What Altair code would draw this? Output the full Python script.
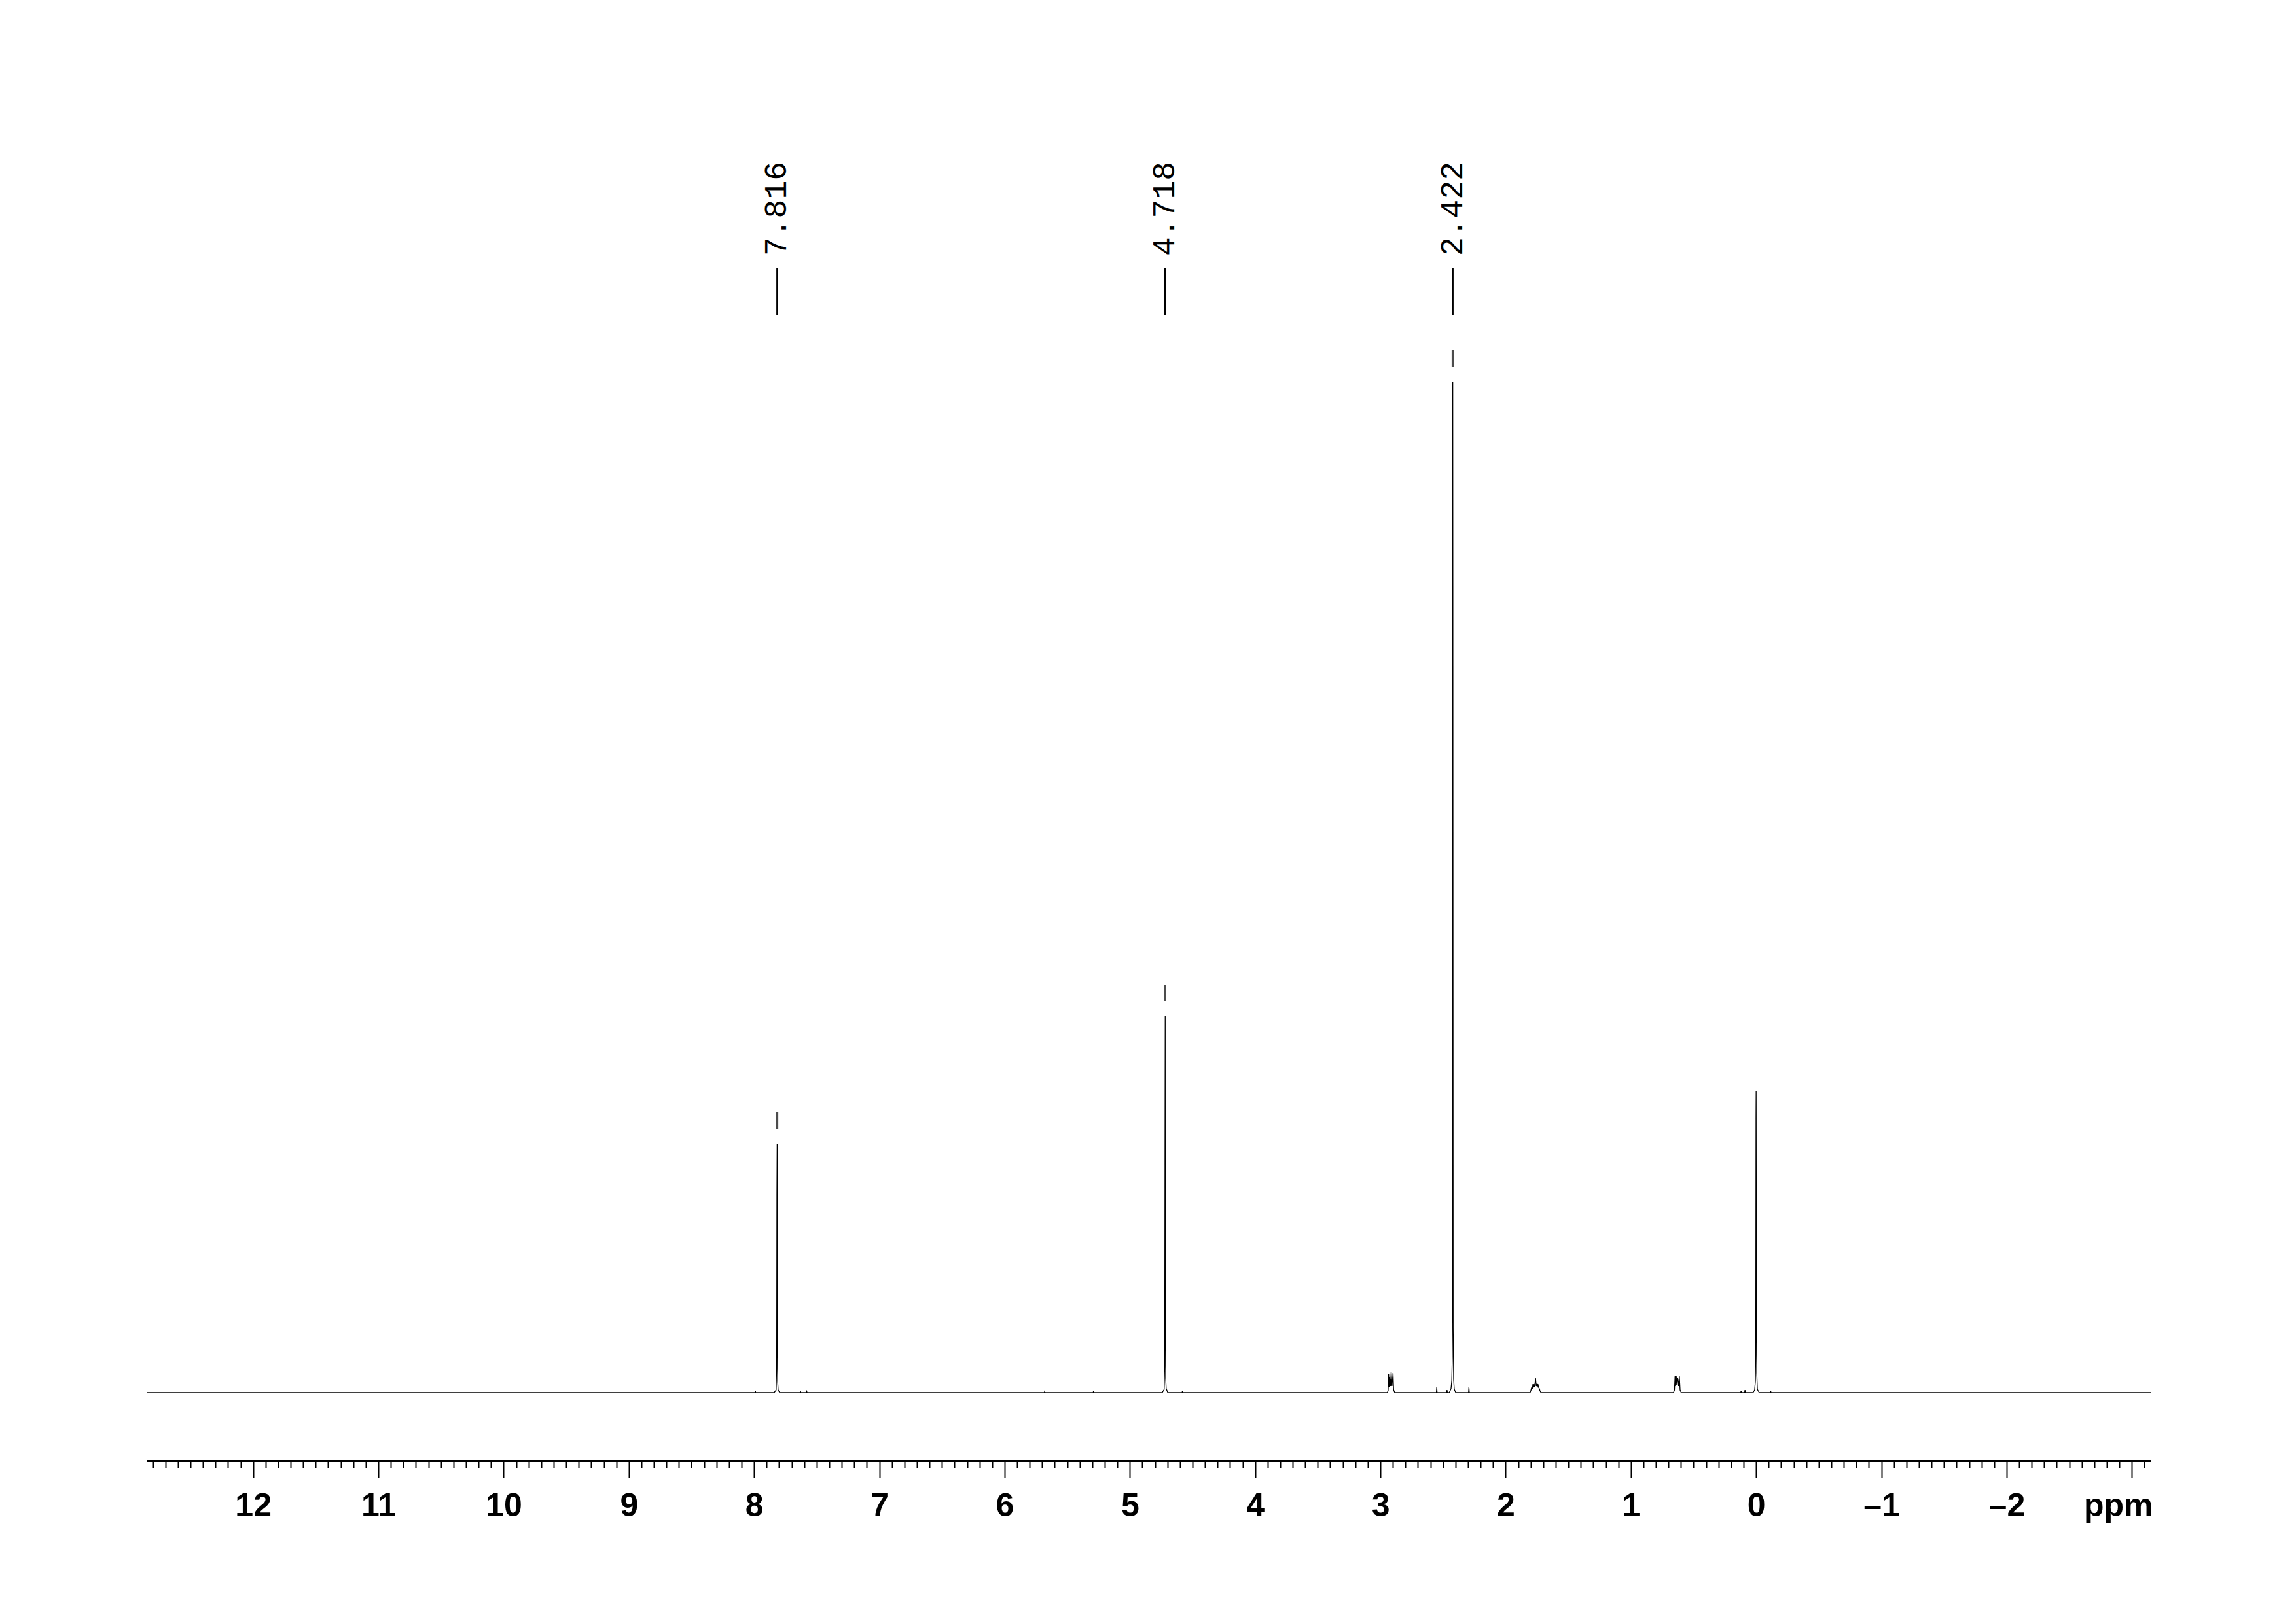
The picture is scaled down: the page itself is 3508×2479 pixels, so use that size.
import altair as alt
import pandas as pd

# ---------------- data ----------------
# spectrum polyline vertices: chemical shift (ppm) and intensity (arbitrary units)
spec_ppm = [
    12.85,
    7.993, 7.990, 7.987,
    7.840, 7.824, 7.820, 7.818, 7.816, 7.815, 7.812, 7.808, 7.795,
    7.633, 7.630, 7.627,
    7.583, 7.580, 7.577,
    5.683, 5.680, 5.677,
    5.293, 5.290, 5.287,
    4.742, 4.726, 4.722, 4.720, 4.718, 4.717, 4.714, 4.710, 4.697,
    4.583, 4.580, 4.577,
    2.945, 2.938, 2.934, 2.930, 2.926, 2.920, 2.914, 2.907, 2.899, 2.894, 2.885,
    2.553, 2.550, 2.547,
    2.471, 2.468, 2.465,
    2.450, 2.436, 2.430, 2.426, 2.424, 2.422, 2.421, 2.419, 2.415, 2.410, 2.398,
    2.296, 2.293, 2.290,
    1.805, 1.797, 1.794, 1.790, 1.786, 1.782, 1.778, 1.773, 1.768, 1.761,
    1.756, 1.752, 1.747, 1.742, 1.737, 1.731, 1.726, 1.718,
    0.660, 0.652, 0.647, 0.643, 0.638, 0.634, 0.626, 0.619, 0.613, 0.607, 0.598,
    0.123, 0.120, 0.117,
    0.092, 0.089, 0.086,
    0.025, 0.012, 0.006, 0.003, 0.001, 0.000, -0.002, -0.005, -0.010, -0.025,
    -0.113, -0.116, -0.119,
    -3.15,
]
spec_int = [
    0,
    0, 3, 0,
    0, 4, 37, 302, 380, 125, 17, 4, 0,
    0, 3, 0,
    0, 2, 0,
    0, 2, 0,
    0, 3, 0,
    0, 5, 40, 313, 575, 160, 22, 6, 0,
    0, 3, 0,
    0, 3, 28, 9, 24, 10, 31, 10, 30, 4, 0,
    0, 8, 0,
    0, 4, 0,
    0, 6, 18, 55, 1232, 1544, 1232, 99, 20, 5, 0,
    0, 8, 0,
    0, 4, 7, 8, 7, 13, 8, 12, 9, 22,
    10, 12, 9, 13, 8, 6, 3, 0,
    0, 4, 26, 10, 26, 12, 22, 10, 25, 4, 0,
    0, 3, 0,
    0, 4, 0,
    0, 4, 17, 58, 418, 460, 165, 30, 5, 0,
    0, 3, 0,
    0,
]

# picked peaks
peak_ppm = [7.816, 4.718, 2.422]
peak_label = ["7.816", "4.718", "2.422"]
peak_int = [380, 575, 1544]

# axis tick values (0.1 ppm steps, labelled every 1 ppm)
tick_values = [round(v * 0.1, 1) for v in range(128, -32, -1)]

spec = pd.DataFrame({"ppm": spec_ppm, "intensity": spec_int})
peaks = pd.DataFrame({"ppm": peak_ppm, "label": peak_label, "intensity": peak_int})

# ---------------- scales & axis ----------------
is_major = "abs(datum.value - round(datum.value)) < 0.001"
label_expr = (
    f"{is_major} ? (round(datum.value) == -3 ? 'ppm' : "
    "(datum.value < -0.5 ? '\u2013' + abs(round(datum.value)) : '' + round(datum.value))) : ''"
)

x_axis = alt.Axis(
    values=tick_values,
    title=None,
    grid=False,
    domainColor="black",
    domainWidth=3,
    tickColor="black",
    tickWidth=2,
    tickSize={"condition": {"test": is_major, "value": 26}, "value": 11},
    labelExpr=label_expr,
    labelFont="Liberation Sans",
    labelFontWeight="bold",
    labelFontSize=50,
    labelColor="black",
    labelPadding=18,
    labelFlush=False,
    labelOverlap=False,
    labelOffset={"condition": {"test": "round(datum.value) == -3 && " + is_major, "value": -21}, "value": 0},
)

x_scale = alt.Scale(domain=[12.85, -3.15], nice=False, zero=False)
y_scale = alt.Scale(domain=[-104, 2027], nice=False, zero=False)

X = alt.X("ppm:Q", scale=x_scale, axis=x_axis)

line = alt.Chart(spec).mark_line(color="black", strokeWidth=1.3, clip=True).encode(
    x=X,
    y=alt.Y("intensity:Q", scale=y_scale, axis=None),
)

markers = alt.Chart(peaks).mark_tick(
    orient="vertical", color="black", size=25, thickness=3.5, yOffset=-35.5
).encode(
    x=X,
    y=alt.Y("intensity:Q", scale=y_scale, axis=None),
)

label_lines = alt.Chart(peaks).mark_rule(color="black", strokeWidth=2.5).encode(
    x=X,
    y=alt.value(309),
    y2=alt.value(381),
)

labels = alt.Chart(peaks).mark_text(
    angle=270, align="left", baseline="middle",
    font="Liberation Mono", fontSize=48, color="black",
).encode(
    x=X,
    y=alt.value(291),
    text="label:N",
)

chart = (
    alt.layer(line, markers, label_lines, labels)
    .properties(
        width=3062,
        height=2131,
        padding={"left": 216, "top": 92, "right": 150, "bottom": 150},
        autosize=alt.AutoSizeParams(type="none"),
        background="white",
    )
    .configure_view(stroke=None)
)

chart.save("out.html", embed_options={"renderer": "svg", "actions": False})
